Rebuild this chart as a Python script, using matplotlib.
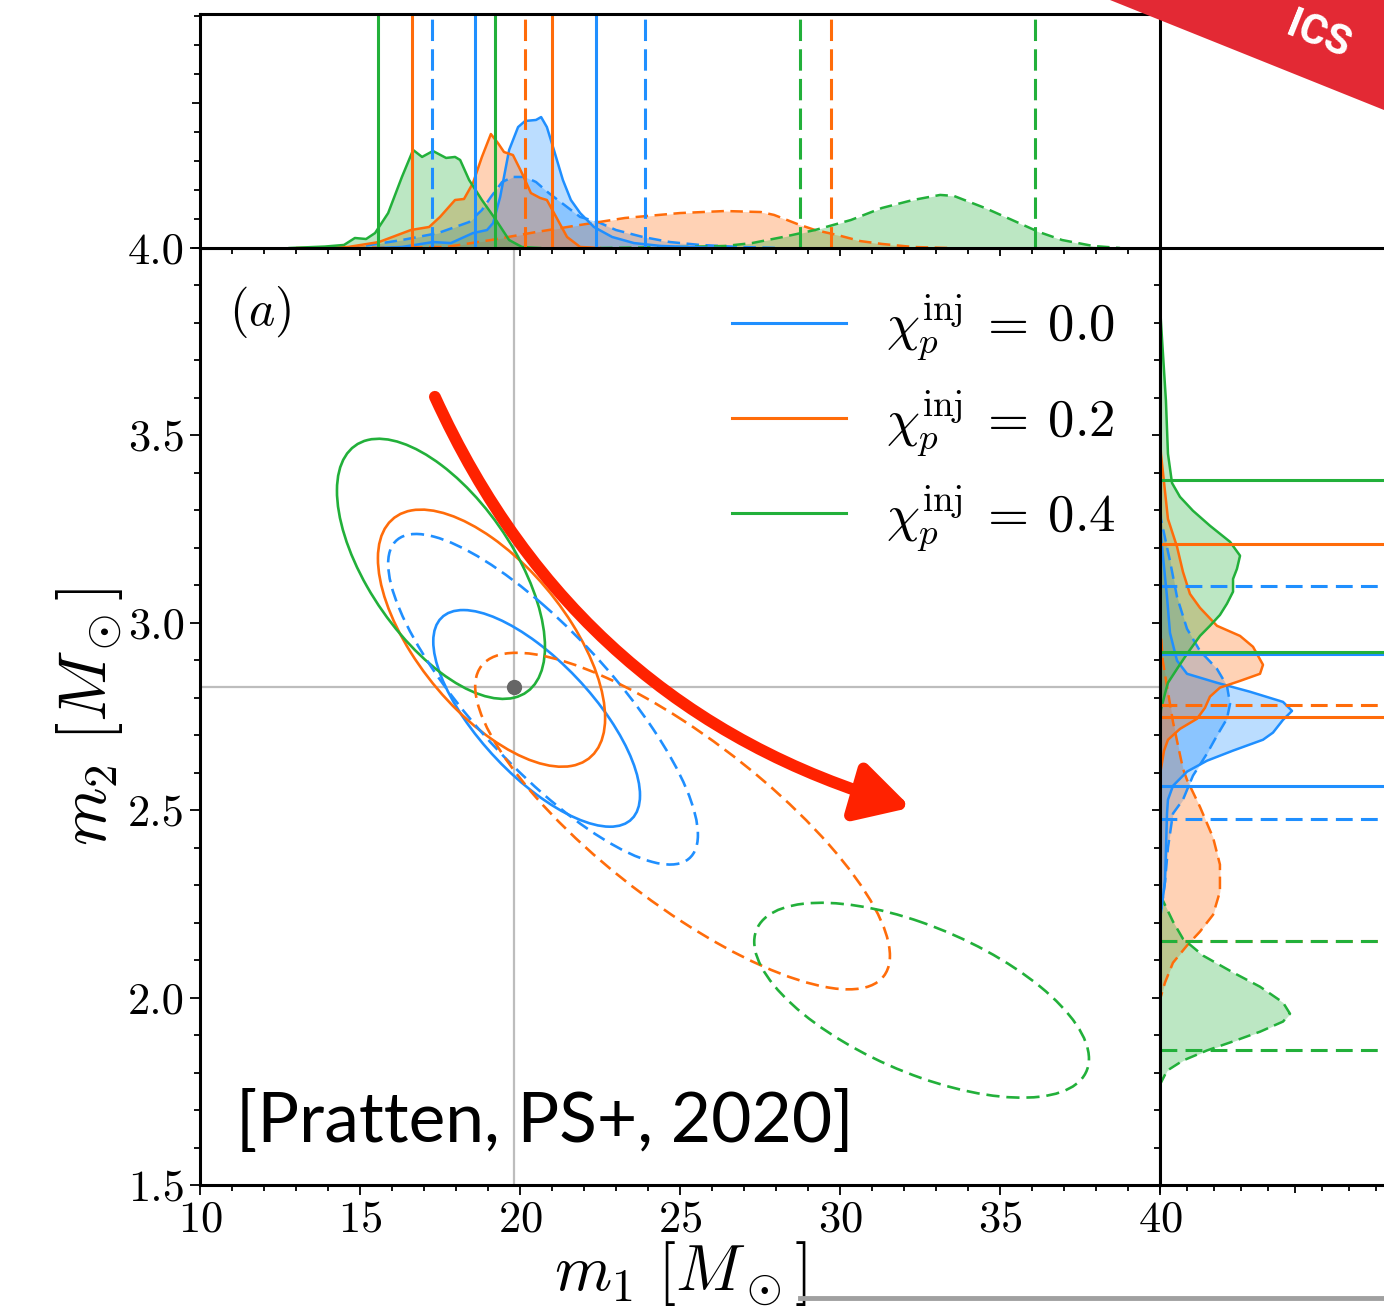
import numpy as np
import matplotlib
matplotlib.use("Agg")
import matplotlib.pyplot as plt
from matplotlib.patches import Ellipse, Polygon, FancyArrowPatch
from matplotlib.ticker import MultipleLocator, FormatStrFormatter
from matplotlib.lines import Line2D

plt.rcParams['font.family'] = 'serif'
plt.rcParams['font.serif'] = ['cmr10', 'DejaVu Serif']
plt.rcParams['mathtext.fontset'] = 'cm'
plt.rcParams['axes.formatter.use_mathtext'] = True

# ---------------- data ----------------
labels = [r"$\chi_p^{\rm inj}\:=\:0.0$", r"$\chi_p^{\rm inj}\:=\:0.2$", r"$\chi_p^{\rm inj}\:=\:0.4$"]
colors = ['#1f8fff', '#ff6c0a', '#22b03a']

m1_inj = 19.81
m2_inj = 2.829

# 2D contours: centre m1, centre m2, half-extent m1, half-extent m2, correlation
# solid
cont_solid = [
    (20.52, 2.745, 3.23, 0.289, -0.71),
    (19.11, 2.959, 3.55, 0.343, -0.62),
    (17.53, 3.144, 3.25, 0.347, -0.60),
]
# dashed
cont_dashed = [
    (20.72, 2.796, 4.84, 0.441, -0.82),
    (25.08, 2.471, 6.48, 0.449, -0.80),
    (32.55, 1.993, 5.23, 0.260, -0.60),
]

# trend arrow (start / end in m1, m2)
arrow_start = (17.34, 3.603)
arrow_end = (32.22, 2.507)

# m1 marginals (top)
m1_blue_s = [15.5, 16.31, 17.28, 17.84, 18.53, 18.97, 19.16, 19.38, 19.66, 19.94, 20.16, 20.5, 20.66,
             20.84, 21.06, 21.34, 21.59, 21.88, 22.31, 22.88, 23.56, 24.41, 25.3, 26.25]
p1_blue_s = [0, 0.007, 0.041, 0.034, 0.103, 0.124, 0.172, 0.352, 0.676, 0.834, 0.876, 0.883, 0.903,
             0.834, 0.676, 0.469, 0.331, 0.241, 0.145, 0.076, 0.034, 0.014, 0.007, 0]
m1_orange_s = [14.0, 14.63, 15.59, 16.59, 17.16, 17.5, 17.97, 18.25, 18.53, 18.81, 19.09, 19.31, 19.5,
               19.78, 20.06, 20.34, 20.63, 20.84, 21.13, 21.47, 21.88, 22.5]
p1_orange_s = [0, 0.007, 0.041, 0.124, 0.145, 0.214, 0.331, 0.338, 0.448, 0.628, 0.786, 0.724, 0.662,
               0.641, 0.517, 0.379, 0.345, 0.331, 0.214, 0.076, 0.007, 0]
m1_green_s = [12.8, 13.9, 14.5, 14.84, 15.19, 15.47, 15.88, 16.31, 16.66, 16.94, 17.28, 17.69, 17.97,
              18.13, 18.41, 18.81, 19.25, 19.66, 20.06, 20.63]
p1_green_s = [0, 0.01, 0.021, 0.069, 0.062, 0.103, 0.241, 0.49, 0.676, 0.628, 0.669, 0.621, 0.628,
              0.607, 0.469, 0.331, 0.193, 0.055, 0.007, 0]
m1_blue_d = [14.0, 14.9, 16.31, 17.44, 18.41, 18.81, 19.09, 19.44, 19.78, 20.16, 20.5, 20.9, 21.47,
             21.88, 22.44, 23.0, 23.84, 24.69, 25.63, 26.88, 28.1]
p1_blue_d = [0, 0.007, 0.055, 0.103, 0.179, 0.262, 0.352, 0.455, 0.49, 0.49, 0.455, 0.379, 0.283,
             0.214, 0.179, 0.124, 0.076, 0.041, 0.021, 0.007, 0]
m1_orange_d = [13.0, 15.6, 17.69, 19.09, 20.5, 21.88, 23.28, 25.0, 26.41, 27.53, 27.94, 28.66, 29.22,
               29.91, 30.63, 31.31, 32.28, 33.4]
p1_orange_d = [0, 0.003, 0.007, 0.055, 0.11, 0.159, 0.207, 0.241, 0.255, 0.248, 0.228, 0.166, 0.124,
               0.09, 0.048, 0.028, 0.007, 0]
m1_green_d = [22.5, 25.0, 26.41, 27.25, 28.22, 29.22, 30.34, 31.31, 32.28, 33.13, 33.56, 34.53, 35.38,
              36.22, 36.94, 37.91, 38.75]
p1_green_d = [0, 0.007, 0.014, 0.034, 0.076, 0.124, 0.193, 0.276, 0.331, 0.366, 0.359, 0.276, 0.193,
              0.11, 0.055, 0.014, 0]

# m1 credible bounds
m1_bounds_solid = [(18.59, 22.375), (16.63, 21.0), (15.56, 19.22)]
m1_bounds_dashed = [(17.25, 23.9), (20.16, 29.72), (28.75, 36.1)]

# m2 marginals (right)
m2_blue_s = [3.3, 3.232, 3.069, 2.973, 2.899, 2.864, 2.84, 2.816, 2.789, 2.765, 2.741, 2.707, 2.688,
             2.659, 2.632, 2.603, 2.565, 2.528, 2.491, 2.309, 2.208]
p2_blue_s = [0, 0.007, 0.052, 0.074, 0.126, 0.2, 0.422, 0.667, 0.911, 0.978, 0.911, 0.837, 0.763,
             0.541, 0.348, 0.2, 0.096, 0.059, 0.052, 0.037, 0]
m2_orange_s = [3.5, 3.451, 3.277, 3.203, 3.136, 3.077, 3.04, 2.992, 2.965, 2.936, 2.888, 2.864, 2.845,
               2.827, 2.803, 2.773, 2.744, 2.717, 2.688, 2.659, 2.595]
p2_orange_s = [0, 0.007, 0.059, 0.126, 0.17, 0.222, 0.296, 0.422, 0.593, 0.689, 0.763, 0.741, 0.593,
               0.444, 0.37, 0.333, 0.274, 0.148, 0.059, 0.03, 0]
m2_green_s = [3.85, 3.803, 3.592, 3.451, 3.373, 3.336, 3.299, 3.259, 3.216, 3.179, 3.144, 3.117, 3.083,
              3.051, 3.021, 2.992, 2.965, 2.917, 2.877, 2.84, 2.811, 2.768, 2.715]
p2_green_s = [0, 0.007, 0.044, 0.059, 0.089, 0.148, 0.244, 0.37, 0.519, 0.593, 0.57, 0.541, 0.541,
              0.496, 0.444, 0.37, 0.296, 0.2, 0.126, 0.059, 0.037, 0.007, 0]
m2_blue_d = [3.35, 3.277, 3.165, 3.069, 2.984, 2.925, 2.877, 2.832, 2.784, 2.744, 2.699, 2.651, 2.592,
             2.528, 2.491, 2.4, 2.309, 2.208]
p2_blue_d = [0, 0.007, 0.074, 0.126, 0.2, 0.296, 0.422, 0.496, 0.519, 0.496, 0.422, 0.348, 0.244,
             0.17, 0.096, 0.059, 0.037, 0]
m2_orange_d = [3.008, 2.9, 2.736, 2.611, 2.581, 2.509, 2.427, 2.355, 2.283, 2.221, 2.176, 2.139, 2.093,
               2.04, 1.995]
p2_orange_d = [0, 0.02, 0.096, 0.17, 0.2, 0.296, 0.393, 0.444, 0.444, 0.393, 0.296, 0.2, 0.096, 0.037, 0]
m2_green_d = [2.275, 2.203, 2.157, 2.112, 2.067, 2.029, 1.987, 1.957, 1.936, 1.909, 1.883, 1.859, 1.832,
              1.805, 1.768]
p2_green_d = [0, 0.096, 0.17, 0.319, 0.541, 0.741, 0.911, 0.963, 0.911, 0.741, 0.541, 0.348, 0.17, 0.052, 0]

m2_bounds_solid = [(2.565, 2.916), (2.750, 3.209), (2.921, 3.381)]
m2_bounds_dashed = [(2.476, 3.098), (2.150, 2.781), (1.861, 2.151)]

# ---------------- figure ----------------
W, H = 1384, 1311
fig = plt.figure(figsize=(W / 100, H / 100), dpi=100)

def fx(px):
    return px / W

def fy(py):
    return 1 - py / H

ax = fig.add_axes([fx(200), fy(1185), fx(960), 937 / H])
axt = fig.add_axes([fx(200), fy(248), fx(960), 234 / H])
axr = fig.add_axes([fx(1160), fy(1185), fx(234), 937 / H])

SP = 2.2
for a in (ax, axt, axr):
    for s in a.spines.values():
        s.set_linewidth(SP)

dash_c = (0, (5, 2.6))
dash_v = (0, (7, 2.7))
dash_h = (0, (5.5, 2.7))

# ---- main panel ----
ax.axvline(m1_inj, color='#bdbdbd', lw=1.6, zorder=1)
ax.axhline(m2_inj, color='#bdbdbd', lw=1.6, zorder=1)

def draw_contour(axis, c, color, ls):
    c1, c2, s1, s2, r = c
    cov = np.array([[s1 * s1, r * s1 * s2], [r * s1 * s2, s2 * s2]])
    vals, vecs = np.linalg.eigh(cov)
    ang = np.degrees(np.arctan2(vecs[1, 1], vecs[0, 1]))
    e = Ellipse((c1, c2), 2 * np.sqrt(vals[1]), 2 * np.sqrt(vals[0]), angle=ang,
                fill=False, edgecolor=color, lw=1.9, linestyle=ls, zorder=3)
    axis.add_patch(e)

for c, col in zip(cont_solid, colors):
    draw_contour(ax, c, col, '-')
for c, col in zip(cont_dashed, colors):
    draw_contour(ax, c, col, dash_c)

ax.plot([m1_inj], [m2_inj], 'o', color='#666666', ms=10, zorder=5)

arrow = FancyArrowPatch(arrow_start, arrow_end, connectionstyle="arc3,rad=0.23",
                        arrowstyle="-|>,head_length=1.45,head_width=0.8", mutation_scale=22,
                        color='#ff2200', lw=8.5, zorder=6, shrinkA=0, shrinkB=0)
ax.add_patch(arrow)

ax.set_xlim(10, 40)
ax.set_ylim(1.5, 4.0)
ax.xaxis.set_major_locator(MultipleLocator(5))
ax.xaxis.set_minor_locator(MultipleLocator(1))
ax.yaxis.set_major_locator(MultipleLocator(0.5))
ax.yaxis.set_minor_locator(MultipleLocator(0.1))
ax.yaxis.set_major_formatter(FormatStrFormatter('%.1f'))
ax.tick_params(which='both', direction='out', top=False, right=False, width=1.3, labelsize=32)
ax.tick_params(which='major', length=7, pad=4)
ax.tick_params(which='minor', length=4)
ax.set_xlabel(r"$m_1\ [M_\odot]$", fontsize=47, labelpad=-1)
ax.set_ylabel(r"$m_2\ [M_\odot]$", fontsize=48, labelpad=2)

handles = [Line2D([], [], color=c, lw=2.2) for c in colors]
ax.legend(handles, labels, loc='upper right', frameon=False, fontsize=38,
          handlelength=2.15, handletextpad=0.75, labelspacing=0.45,
          borderaxespad=0.45, borderpad=0.4)

ax.text(0.03, 0.932, r"$(a)$", transform=ax.transAxes, fontsize=36, va='center', ha='left')
ax.text(0.037, 0.067, "[Pratten, PS+, 2020]", transform=ax.transAxes, fontsize=50,
        family='Lato', va='center', ha='left')

# ---- top marginal ----
top_s = [(m1_blue_s, p1_blue_s), (m1_orange_s, p1_orange_s), (m1_green_s, p1_green_s)]
top_d = [(m1_blue_d, p1_blue_d), (m1_orange_d, p1_orange_d), (m1_green_d, p1_green_d)]
for (x, y), col in zip(top_d, colors):
    axt.fill_between(x, 0, y, color=col, alpha=0.3, lw=0)
    axt.plot(x, y, color=col, lw=1.8, ls=dash_c)
for (x, y), col in zip(top_s, colors):
    axt.fill_between(x, 0, y, color=col, alpha=0.3, lw=0)
    axt.plot(x, y, color=col, lw=1.8)
for (lo, hi), col in zip(m1_bounds_solid, colors):
    for v in (lo, hi):
        axt.axvline(v, color=col, lw=2.2)
for (lo, hi), col in zip(m1_bounds_dashed, colors):
    for v in (lo, hi):
        axt.axvline(v, color=col, lw=2.2, ls=dash_v)
axt.set_xlim(10, 40)
axt.set_ylim(0, 234 / 145)
axt.xaxis.set_major_locator(MultipleLocator(5))
axt.xaxis.set_minor_locator(MultipleLocator(1))
axt.yaxis.set_major_locator(MultipleLocator(1.0))
axt.yaxis.set_minor_locator(MultipleLocator(0.2))
axt.tick_params(which='both', direction='out', labelbottom=False, labelleft=False, width=1.3)
axt.tick_params(which='major', length=6)
axt.tick_params(which='minor', length=4)

# ---- right marginal ----
right_s = [(m2_blue_s, p2_blue_s), (m2_orange_s, p2_orange_s), (m2_green_s, p2_green_s)]
right_d = [(m2_blue_d, p2_blue_d), (m2_orange_d, p2_orange_d), (m2_green_d, p2_green_d)]
for (y, x), col in zip(right_d, colors):
    axr.fill_betweenx(y, 0, x, color=col, alpha=0.3, lw=0)
    axr.plot(x, y, color=col, lw=1.8, ls=dash_c)
for (y, x), col in zip(right_s, colors):
    axr.fill_betweenx(y, 0, x, color=col, alpha=0.3, lw=0)
    axr.plot(x, y, color=col, lw=1.8)
for (lo, hi), col in zip(m2_bounds_dashed, colors):
    for v in (lo, hi):
        axr.axhline(v, color=col, lw=2.2, ls=dash_h)
for (lo, hi), col in zip(m2_bounds_solid, colors):
    for v in (lo, hi):
        axr.axhline(v, color=col, lw=2.2)
axr.set_ylim(1.5, 4.0)
axr.set_xlim(0, 234 / 135)
axr.xaxis.set_major_locator(MultipleLocator(1.0))
axr.xaxis.set_minor_locator(MultipleLocator(0.2))
axr.yaxis.set_major_locator(MultipleLocator(0.5))
axr.yaxis.set_minor_locator(MultipleLocator(0.1))
axr.tick_params(which='both', direction='out', labelbottom=False, labelleft=False, width=1.3)
axr.tick_params(which='major', length=6)
axr.tick_params(which='minor', length=4)

# ---- decorative elements of the slide crop ----
banner = Polygon([(fx(1110), fy(0)), (fx(1384), fy(110)), (fx(1384), fy(-200)), (fx(1110), fy(-200))],
                 closed=True, transform=fig.transFigure, facecolor='#e32934', edgecolor='none',
                 zorder=20, clip_on=False)
fig.patches.append(banner)
fig.text(fx(1318), fy(36), "ICS", rotation=-22, color='white', fontsize=30, family='Roboto',
         fontweight='bold', ha='center', va='center', zorder=21)
fig.lines.append(Line2D([fx(800), fx(1384)], [fy(1298), fy(1298)], transform=fig.transFigure,
                        color='#a0a0a0', lw=3.5, zorder=0))

fig.savefig("out.png", dpi=100)
